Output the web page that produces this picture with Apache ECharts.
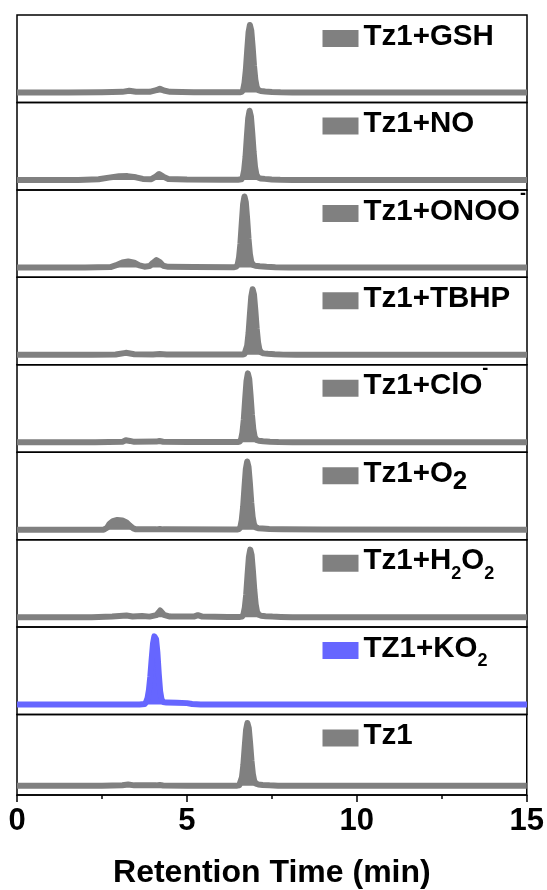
<!DOCTYPE html>
<html>
<head>
<meta charset="utf-8">
<script src="https://cdn.jsdelivr.net/npm/echarts@6/dist/echarts.min.js"></script>
<style>
  html, body { margin: 0; padding: 0; background: #fff; }
  #chart { width: 547px; height: 890px; }
</style>
</head>
<body>
<div id="chart"></div>
<script>
// HPLC traces of Tz1 after treatment with various reactive species.
// Each trace: [retention time (min), detector response (a.u.)].

const sampleNames = [
  'Tz1+GSH', 'Tz1+NO', 'Tz1+ONOO-', 'Tz1+TBHP', 'Tz1+ClO-',
  'Tz1+O2', 'Tz1+H2O2', 'TZ1+KO2', 'Tz1'
];

// Legend text with sub/superscripts (rich-text markup)
const sampleLabels = [
  '{m|Tz1+GSH}', '{m|Tz1+NO}', '{m|Tz1+ONOO}{sup|-}', '{m|Tz1+TBHP}', '{m|Tz1+ClO}{sup|-}',
  '{m|Tz1+O}{big|2}', '{m|Tz1+H}{sub|2}{m|O}{sub|2}', '{m|TZ1+KO}{sub|2}', '{m|Tz1}'
];

const sampleColors = [
  '#808080', '#808080', '#808080', '#808080', '#808080',
  '#808080', '#808080', '#6666FF', '#808080'
];

const xTicks = [0, 5, 10, 15];

const traceGsh = [
  [0,0],[1.5,0],[2.5,0.5],[3.1,1],[3.3,2.6],[3.5,1.2],[3.9,1],[4.1,3.5],[4.2,5.8],[4.32,3],
  [4.5,1],[5.2,0.5],[6.0,0.3],[6.55,0.3],[6.61,1],[6.65,4.1],[6.69,14.3],[6.73,33.7],
  [6.77,63.2],[6.81,90.8],[6.85,102],[6.89,93.8],[6.93,69.4],[6.97,40.8],[7.01,19.4],
  [7.05,8.2],[7.10,3.6],[7.17,2.2],[7.30,1.5],[7.50,0.8],[7.75,0.3],[8.1,0],[15,0]
];

const traceNo = [
  [0,0],[1.8,0],[2.4,1],[2.7,3.5],[3.0,5.5],[3.25,5.8],[3.5,4],[3.7,1.5],[3.95,1.2],
  [4.08,5],[4.18,9],[4.3,5],[4.45,1.5],[5.0,0.6],[6.0,0.3],[6.5,0.3],[6.60,1],[6.64,4.2],
  [6.68,14.6],[6.72,34.5],[6.76,64.8],[6.80,93],[6.84,104.5],[6.88,96],[6.92,71],
  [6.96,42],[7.00,20],[7.04,8.4],[7.09,3.7],[7.16,2.3],[7.29,1.6],[7.49,0.8],[7.74,0.3],
  [8.1,0],[15,0]
];

const traceOnoo = [
  [0,0],[2.0,0],[2.75,0.5],[2.9,3],[3.1,7.5],[3.27,9],[3.45,7],[3.6,3],[3.75,1],[3.9,2],
  [4.0,7],[4.1,11],[4.2,8],[4.3,2.5],[4.45,0.8],[5.2,0.4],[6.3,0.3],[6.39,0.3],[6.45,1.1],
  [6.49,4.3],[6.53,15],[6.57,35.3],[6.61,66.3],[6.65,95.2],[6.69,107],[6.73,98.4],
  [6.77,72.8],[6.81,42.8],[6.85,20.3],[6.89,8.6],[6.94,3.7],[7.01,2.4],[7.14,1.6],
  [7.34,0.9],[7.6,0.3],[8.0,0],[15,0]
];

const traceTbhp = [
  [0,0],[2.2,0],[2.9,0.5],[3.2,3],[3.45,1],[4.0,0.6],[4.2,1.2],[4.4,0.6],[5.0,0.5],
  [6.63,0.3],[6.69,1],[6.73,4],[6.77,13.9],[6.81,32.7],[6.85,61.4],[6.89,88.1],[6.93,99],
  [6.97,91.1],[7.01,67.3],[7.05,39.6],[7.09,18.8],[7.13,7.9],[7.18,3.5],[7.25,2.2],
  [7.38,1.5],[7.58,0.8],[7.83,0.3],[8.2,0],[15,0]
];

const traceClo = [
  [0,0],[2.3,0],[3.1,0.6],[3.2,3],[3.25,4.5],[3.32,2],[3.45,0.6],[4.1,1],[4.19,1.8],
  [4.3,0.8],[5.0,0.4],[6.49,0.3],[6.55,1],[6.59,4.2],[6.63,14.6],[6.67,34.3],[6.71,64.5],
  [6.75,92.6],[6.79,104],[6.83,95.7],[6.87,70.7],[6.91,41.6],[6.95,19.8],[6.99,8.3],
  [7.04,3.6],[7.11,2.3],[7.24,1.6],[7.44,0.8],[7.69,0.3],[8.1,0],[15,0]
];

const traceO2 = [
  [0,0],[2.55,0],[2.65,3],[2.72,9],[2.82,13],[2.95,14.8],[3.1,14],[3.22,11],[3.32,6],
  [3.42,2],[3.5,0.5],[4.1,0.5],[4.2,1.2],[4.3,0.5],[6.47,0.3],[6.53,1],[6.57,4.1],
  [6.61,14.4],[6.65,34],[6.69,63.9],[6.73,91.7],[6.77,103],[6.81,94.8],[6.85,70],
  [6.89,41.2],[6.93,19.6],[6.97,8.2],[7.02,3.6],[7.09,2.3],[7.22,1.8],[7.42,1.2],
  [7.8,0.8],[9.0,0.4],[15,0]
];

const traceH2o2 = [
  [0,0],[2.2,0],[2.8,1],[3.22,2.6],[3.4,1],[3.68,1.8],[3.9,0.8],[4.1,3],[4.21,10],
  [4.32,3.5],[4.5,0.8],[5.2,0.8],[5.32,3],[5.45,0.8],[6.2,0.3],[6.56,0.3],[6.62,1],
  [6.66,4.1],[6.70,14.3],[6.74,33.7],[6.78,63.2],[6.82,90.8],[6.86,102],[6.90,93.8],
  [6.94,69.4],[6.98,40.8],[7.02,19.4],[7.06,8.2],[7.11,3.6],[7.18,2.2],[7.31,1.5],
  [7.51,0.8],[7.76,0.3],[8.1,0],[15,0]
];

const traceKo2 = [
  [0,0],[3.6,0],[3.76,1],[3.80,4.2],[3.84,10],[3.88,22],[3.92,42],[3.96,68],[4.00,92],
  [4.04,103],[4.06,104],[4.09,99],[4.13,78],[4.17,46],[4.21,20],[4.25,8],[4.30,4],
  [4.4,3],[4.7,2.8],[5.0,2.2],[5.15,0.8],[5.4,0],[15,0]
];

const traceTz1 = [
  [0,0],[2.5,0.3],[3.1,1],[3.27,2.2],[3.45,0.8],[4.1,0.8],[4.2,1.5],[4.3,0.6],[5.0,0.3],
  [6.48,0.3],[6.54,1],[6.58,4.1],[6.62,14.4],[6.66,34],[6.70,63.9],[6.74,91.7],[6.78,103],
  [6.82,94.8],[6.86,70],[6.90,41.2],[6.94,19.6],[6.98,8.2],[7.03,3.6],[7.10,2.3],
  [7.23,1.5],[7.43,0.8],[7.68,0.3],[8.0,0],[15,0]
];

const traces = [traceGsh, traceNo, traceOnoo, traceTbhp, traceClo, traceO2, traceH2o2, traceKo2, traceTz1];

// Panel geometry
const PLOT_LEFT = 17;
const PLOT_WIDTH = 510;
const PANEL_TOP = 15;
const PANEL_PITCH = 87.44;
const PANEL_HEIGHT = 87.44;
const LEGEND_CENTER = 23.5;   // legend swatch centre below each panel top
const FONT = '"Liberation Sans", Arial, Helvetica, sans-serif';

// Legend labels use a tall condensed face when one is installed
function hasFont(family) {
  const ctx = document.createElement('canvas').getContext('2d');
  const probe = 'Tz1+ONOO mmmWWWiii';
  ctx.font = 'bold 40px monospace';
  const w0 = ctx.measureText(probe).width;
  ctx.font = 'bold 40px "' + family + '", monospace';
  return Math.abs(ctx.measureText(probe).width - w0) > 0.5;
}
const narrow = hasFont('Liberation Sans Narrow');
const LEG = narrow
  ? { family: '"Liberation Sans Narrow", ' + FONT, main: 35.5, sub: 21, big: 30, sup: 21, up: 3.9 }
  : { family: FONT, main: 29.5, sub: 18, big: 26, sup: 18, up: 2 };
const LEG_LINE = 72;

function richStyle(size, padTop, padBottom) {
  return {
    color: '#000', fontFamily: LEG.family, fontWeight: 'bold', fontSize: size,
    lineHeight: LEG_LINE, padding: [padTop, 0, padBottom, 0]
  };
}

const grids = [], xAxes = [], yAxes = [], series = [], legends = [];
const last = sampleNames.length - 1;

sampleNames.forEach((name, i) => {
  const top = PANEL_TOP + i * PANEL_PITCH;
  grids.push({
    left: PLOT_LEFT, width: PLOT_WIDTH, top: top, height: PANEL_HEIGHT,
    show: true, borderColor: '#000', borderWidth: 1.5, backgroundColor: 'transparent'
  });
  const isBottom = i === last;
  xAxes.push({
    type: 'value', gridIndex: i, min: xTicks[0], max: xTicks[xTicks.length - 1], interval: 5,
    show: isBottom,
    axisLine: { show: true, onZero: false, lineStyle: { color: '#000', width: 1.5 } },
    axisTick: { show: true, length: 7, lineStyle: { color: '#000', width: 1.5 } },
    minorTick: { show: true, splitNumber: 2, length: 4, lineStyle: { color: '#000', width: 1.5 } },
    splitLine: { show: false },
    axisLabel: {
      show: isBottom, margin: 11, color: '#000', fontFamily: FONT, fontWeight: 'bold', fontSize: 31
    },
    name: isBottom ? 'Retention Time (min)' : '',
    nameLocation: 'middle', nameGap: 62,
    nameTextStyle: { color: '#000', fontFamily: FONT, fontWeight: 'bold', fontSize: 32 }
  });
  yAxes.push({ type: 'value', gridIndex: i, min: -15, max: 117, show: false });
  series.push({
    name: name, type: 'line', xAxisIndex: i, yAxisIndex: i,
    data: traces[i], symbol: 'none', showSymbol: false, silent: true,
    color: sampleColors[i],
    lineStyle: { color: sampleColors[i], width: 6, join: 'round', cap: 'butt' },
    areaStyle: { color: sampleColors[i], opacity: 1, origin: 'auto' }
  });
  legends.push({
    data: [name], left: 322.5, top: top + LEGEND_CENTER - LEG_LINE / 2, orient: 'horizontal',
    padding: 0, itemWidth: 36, itemHeight: 17, icon: 'rect', selectedMode: false,
    itemStyle: { borderWidth: 0 },
    formatter: () => sampleLabels[i],
    textStyle: {
      color: '#000', fontFamily: LEG.family, fontWeight: 'bold', fontSize: LEG.main,
      lineHeight: LEG_LINE,
      rich: {
        m: richStyle(LEG.main, 0, 2 * LEG.up),
        sub: richStyle(LEG.sub, 2 * (12.7 - LEG.up), 0),
        big: richStyle(LEG.big, 2 * (7.8 - LEG.up), 0),
        sup: richStyle(LEG.sup, 0, 2 * (17 + LEG.up))
      }
    }
  });
});

const chart = echarts.init(document.getElementById('chart'), null, { renderer: 'canvas' });
chart.setOption({
  animation: false,
  backgroundColor: '#fff',
  grid: grids,
  xAxis: xAxes,
  yAxis: yAxes,
  legend: legends,
  series: series
});
</script>
</body>
</html>
